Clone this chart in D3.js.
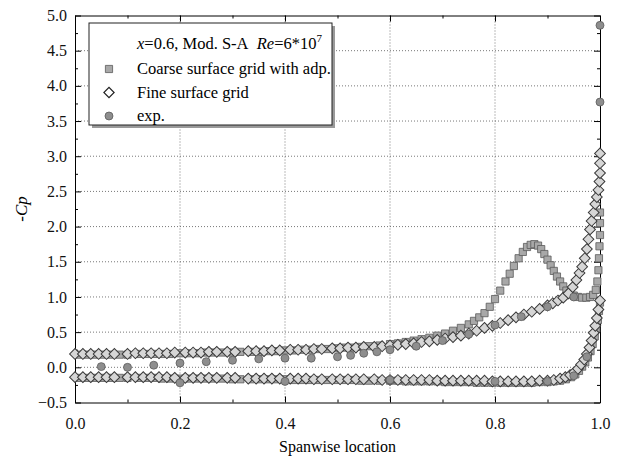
<!DOCTYPE html>
<html>
<head>
<meta charset="utf-8">
<script src="https://cdn.jsdelivr.net/npm/d3@7"></script>
<style>
  body { margin: 0; background: #fff; }
  svg text { font-family: 'Liberation Serif', 'DejaVu Serif', serif; }
  .grid line { stroke: #555; stroke-dasharray: 1 2; stroke-width: 0.8; }
  .axis path, .axis line { stroke: #000; }
  .axis text { font-size: 16px; fill: #111; }
</style>
</head>
<body>
<div id="chart"></div>
<script>
// Tick values
const xTicks = [0.0, 0.2, 0.4, 0.6, 0.8, 1.0];
const xMinorTicks = [0.1, 0.3, 0.5, 0.7, 0.9];
const yTicks = [-0.5, 0.0, 0.5, 1.0, 1.5, 2.0, 2.5, 3.0, 3.5, 4.0, 4.5, 5.0];
const yMinorTicks = [-0.25, 0.25, 0.75, 1.25, 1.75, 2.25, 2.75, 3.25, 3.75, 4.25, 4.75];

// Coarse surface grid with adp. (upper and lower surface)
const coarseUpper = [
  [0.005,0.18],[0.02,0.18],[0.035,0.18],[0.05,0.18],[0.065,0.18],[0.085,0.18],[0.1,0.18],
  [0.12,0.19],[0.135,0.19],[0.15,0.19],[0.165,0.19],[0.18,0.19],[0.2,0.2],[0.215,0.2],
  [0.23,0.2],[0.245,0.21],[0.26,0.21],[0.28,0.21],[0.3,0.21],[0.315,0.22],[0.335,0.22],
  [0.35,0.22],[0.365,0.23],[0.38,0.23],[0.4,0.24],[0.415,0.24],[0.43,0.25],[0.445,0.25],
  [0.46,0.26],[0.48,0.26],[0.5,0.27],[0.515,0.28],[0.53,0.28],[0.545,0.29],[0.56,0.3],
  [0.58,0.31],[0.6,0.33],[0.615,0.34],[0.63,0.36],[0.645,0.38],[0.66,0.4],[0.675,0.42],
  [0.69,0.45],[0.705,0.48],[0.72,0.52],[0.735,0.56],[0.75,0.61],[0.76,0.66],[0.77,0.71],
  [0.78,0.77],[0.79,0.86],[0.8,0.97],[0.81,1.09],[0.82,1.22],[0.828,1.33],[0.836,1.44],
  [0.845,1.55],[0.853,1.64],[0.861,1.71],[0.868,1.74],[0.875,1.75],[0.882,1.73],
  [0.888,1.68],[0.894,1.61],[0.9,1.53],[0.906,1.45],[0.912,1.37],[0.918,1.29],
  [0.924,1.22],[0.93,1.15],[0.936,1.09],[0.943,1.05],[0.95,1.02],[0.958,1.0],
  [0.966,0.99],[0.974,0.99],[0.981,1.0],[0.987,1.03],[0.992,1.1],[0.995,1.22],
  [0.997,1.38],[0.998,1.55],[0.999,1.72],[1.0,1.88],[1.0,2.05],[1.0,2.2]
];
const coarseLower = [
  [0.005,-0.15],[0.02,-0.15],[0.035,-0.15],[0.05,-0.15],[0.065,-0.15],[0.085,-0.15],
  [0.1,-0.15],[0.12,-0.15],[0.135,-0.15],[0.15,-0.15],[0.165,-0.16],[0.18,-0.16],
  [0.2,-0.16],[0.215,-0.16],[0.23,-0.16],[0.245,-0.16],[0.26,-0.16],[0.28,-0.16],
  [0.3,-0.17],[0.315,-0.17],[0.335,-0.17],[0.35,-0.17],[0.365,-0.17],[0.38,-0.17],
  [0.4,-0.17],[0.415,-0.18],[0.43,-0.18],[0.445,-0.18],[0.46,-0.18],[0.48,-0.18],
  [0.5,-0.18],[0.515,-0.18],[0.53,-0.18],[0.545,-0.19],[0.56,-0.19],[0.58,-0.19],
  [0.6,-0.19],[0.615,-0.19],[0.63,-0.2],[0.645,-0.2],[0.66,-0.2],[0.675,-0.2],
  [0.69,-0.2],[0.705,-0.21],[0.72,-0.21],[0.735,-0.21],[0.75,-0.21],[0.765,-0.22],
  [0.78,-0.22],[0.795,-0.22],[0.81,-0.22],[0.825,-0.22],[0.84,-0.22],[0.855,-0.22],
  [0.87,-0.22],[0.885,-0.21],[0.9,-0.21],[0.912,-0.2],[0.924,-0.19],[0.935,-0.17],
  [0.945,-0.14],[0.953,-0.1],[0.96,-0.05],[0.966,0.01],[0.972,0.07],[0.977,0.14],
  [0.982,0.23],[0.986,0.33],[0.99,0.44],[0.993,0.55],[0.996,0.67],[0.998,0.8],
  [1.0,0.92]
];

// Fine surface grid (upper and lower surface)
const fineUpper = [
  [0.0,0.19],[0.015,0.19],[0.03,0.19],[0.045,0.19],[0.06,0.19],[0.075,0.19],[0.1,0.19],
  [0.115,0.2],[0.13,0.2],[0.145,0.2],[0.16,0.2],[0.175,0.2],[0.19,0.21],[0.21,0.21],
  [0.225,0.21],[0.24,0.21],[0.255,0.22],[0.27,0.22],[0.29,0.22],[0.305,0.22],[0.33,0.23],
  [0.345,0.23],[0.36,0.23],[0.375,0.24],[0.39,0.24],[0.41,0.25],[0.425,0.25],[0.44,0.25],
  [0.455,0.26],[0.47,0.26],[0.49,0.27],[0.505,0.27],[0.52,0.28],[0.535,0.28],[0.55,0.29],
  [0.57,0.29],[0.585,0.3],[0.6,0.31],[0.615,0.32],[0.63,0.33],[0.645,0.34],[0.66,0.36],
  [0.675,0.37],[0.69,0.39],[0.705,0.41],[0.72,0.43],[0.735,0.45],[0.75,0.48],[0.765,0.52],
  [0.78,0.56],[0.795,0.59],[0.81,0.63],[0.825,0.67],[0.84,0.71],[0.855,0.75],[0.87,0.79],
  [0.885,0.83],[0.9,0.88],[0.91,0.91],[0.92,0.95],[0.93,0.99],[0.94,1.05],[0.948,1.14],
  [0.955,1.24],[0.961,1.34],[0.966,1.43],[0.971,1.55],[0.975,1.68],[0.978,1.82],
  [0.981,1.96],[0.984,2.08],[0.988,2.2],[0.991,2.32],[0.994,2.42],[0.997,2.52],
  [0.999,2.64],[1.0,2.76],[1.0,2.9],[1.0,3.04]
];
const fineLower = [
  [0.0,-0.14],[0.015,-0.14],[0.03,-0.14],[0.045,-0.14],[0.06,-0.14],[0.075,-0.14],
  [0.1,-0.14],[0.115,-0.14],[0.13,-0.14],[0.145,-0.14],[0.16,-0.14],[0.175,-0.14],
  [0.19,-0.15],[0.21,-0.15],[0.225,-0.15],[0.24,-0.15],[0.255,-0.15],[0.27,-0.15],
  [0.29,-0.15],[0.305,-0.15],[0.33,-0.16],[0.345,-0.16],[0.36,-0.16],[0.375,-0.16],
  [0.39,-0.16],[0.41,-0.16],[0.425,-0.16],[0.44,-0.16],[0.455,-0.17],[0.47,-0.17],
  [0.49,-0.17],[0.505,-0.17],[0.52,-0.17],[0.535,-0.17],[0.55,-0.17],[0.57,-0.17],
  [0.585,-0.18],[0.6,-0.18],[0.615,-0.18],[0.63,-0.18],[0.645,-0.18],[0.66,-0.18],
  [0.675,-0.18],[0.69,-0.19],[0.705,-0.19],[0.72,-0.19],[0.735,-0.19],[0.75,-0.19],
  [0.765,-0.19],[0.78,-0.19],[0.795,-0.2],[0.81,-0.2],[0.825,-0.2],[0.84,-0.2],
  [0.855,-0.2],[0.87,-0.2],[0.885,-0.19],[0.9,-0.19],[0.912,-0.18],[0.924,-0.16],
  [0.934,-0.14],[0.943,-0.11],[0.951,-0.07],[0.958,-0.02],[0.964,0.04],[0.97,0.11],
  [0.975,0.19],[0.98,0.28],[0.984,0.38],[0.988,0.49],[0.991,0.59],[0.994,0.7],
  [0.997,0.82],[1.0,0.95]
];

// Experiment
const expData = [
  [0.05,0.01],[0.1,0.0],[0.15,0.03],[0.2,0.06],[0.25,0.08],[0.3,0.1],[0.35,0.12],
  [0.4,0.13],[0.45,0.13],[0.5,0.15],[0.525,0.17],[0.55,0.2],[0.575,0.22],[0.6,0.25],
  [0.65,0.3],[0.7,0.38],[0.75,0.47],[0.8,0.6],[0.85,0.72],[0.9,0.86],[0.95,1.0],
  [0.2,-0.22],[0.4,-0.2],[0.6,-0.18],[0.8,-0.2],[0.9,-0.2],[0.95,-0.12],[0.975,0.15],
  [1.0,3.77],[1.0,4.86]
];

const margin = {top: 15.5, right: 24, bottom: 65.5, left: 75};
const width = 624 - margin.left - margin.right,
  height = 468 - margin.top - margin.bottom;
const serif = "'Liberation Serif', 'DejaVu Serif', serif";

const root = d3.select('#chart').append('svg')
  .attr('width', 624)
  .attr('height', 468);

const svg = root.append('g')
  .attr('transform', `translate(${margin.left}, ${margin.top})`);

const xScale = d3.scaleLinear().domain([0, 1]).range([0, width]);
const yScale = d3.scaleLinear().domain([-0.5, 5]).range([height, 0]);

// Dotted grid
const grid = svg.append('g').attr('class', 'grid');
grid.selectAll('.gx')
  .data(xTicks.slice(1, -1))
  .enter().append('line')
  .attr('x1', d => xScale(d)).attr('x2', d => xScale(d))
  .attr('y1', 0).attr('y2', height);
grid.selectAll('.gy')
  .data(yTicks.slice(1, -1))
  .enter().append('line')
  .attr('y1', d => yScale(d)).attr('y2', d => yScale(d))
  .attr('x1', 0).attr('x2', width);

// Axes with inward ticks on all four sides
function addAxis(axisFn, scale, values, size, labels, transform) {
  const g = svg.append('g').attr('class', 'axis').attr('transform', transform);
  g.call(axisFn(scale).tickValues(values).tickSize(size).tickSizeOuter(0)
    .tickPadding(labels ? 10 : 0)
    .tickFormat(labels ? d3.format('.1f') : ''));
  g.attr('font-family', null).attr('font-size', null);
  return g;
}
const xb = addAxis(d3.axisBottom, xScale, xTicks, -6, true, `translate(0, ${height})`);
xb.selectAll('text').attr('dy', '1.0em');
addAxis(d3.axisBottom, xScale, xMinorTicks, -3, false, `translate(0, ${height})`).select('.domain').remove();
addAxis(d3.axisTop, xScale, xTicks, -6, false, 'translate(0, 0)');
addAxis(d3.axisTop, xScale, xMinorTicks, -3, false, 'translate(0, 0)').select('.domain').remove();
const yl = addAxis(d3.axisLeft, yScale, yTicks, -6, true, 'translate(0, 0)');
yl.selectAll('text').attr('x', -8);
addAxis(d3.axisLeft, yScale, yMinorTicks, -3, false, 'translate(0, 0)').select('.domain').remove();
addAxis(d3.axisRight, yScale, yTicks, -6, false, `translate(${width}, 0)`);
addAxis(d3.axisRight, yScale, yMinorTicks, -3, false, `translate(${width}, 0)`).select('.domain').remove();

// Markers
const squareSym = d3.symbol().type(d3.symbolSquare).size(52);
const diamondSym = d3.symbol().type(d3.symbolSquare).size(58);
const circleSym = d3.symbol().type(d3.symbolCircle).size(50);

const marks = svg.append('g');
function drawSquares(data) {
  marks.append('g').selectAll('path').data(data).enter().append('path')
    .attr('d', squareSym)
    .attr('transform', d => `translate(${xScale(d[0])}, ${yScale(d[1])})`)
    .attr('fill', '#a8a8a8').attr('stroke', '#5a5a5a').attr('stroke-width', 0.8);
}
function drawDiamonds(data) {
  marks.append('g').selectAll('path').data(data).enter().append('path')
    .attr('d', diamondSym)
    .attr('transform', d => `translate(${xScale(d[0])}, ${yScale(d[1])}) rotate(45)`)
    .attr('fill', '#d6d6d6').attr('stroke', '#3a3a3a').attr('stroke-width', 1);
}
function drawCircles(data) {
  marks.append('g').selectAll('path').data(data).enter().append('path')
    .attr('d', circleSym)
    .attr('transform', d => `translate(${xScale(d[0])}, ${yScale(d[1])})`)
    .attr('fill', '#8e8e8e').attr('stroke', '#5c5c5c').attr('stroke-width', 0.8);
}
drawSquares(coarseUpper);
drawSquares(coarseLower);
drawDiamonds(fineUpper);
drawDiamonds(fineLower);
drawCircles(expData);

// Axis titles
root.append('text')
  .attr('x', margin.left + width / 2).attr('y', 452)
  .attr('text-anchor', 'middle')
  .style('font-size', '16px')
  .text('Spanwise location');

root.append('text')
  .attr('transform', `translate(27, ${margin.top + height / 2}) rotate(-90)`)
  .attr('text-anchor', 'middle')
  .style('font-size', '17px')
  .style('font-style', 'italic')
  .text('-Cp');

// Legend
const legend = root.append('g').attr('transform', 'translate(89, 23)');
legend.append('rect')
  .attr('x', 3).attr('y', 3).attr('width', 243).attr('height', 102)
  .attr('fill', '#9a9a9a');
legend.append('rect')
  .attr('width', 243).attr('height', 102)
  .attr('fill', '#fff').attr('stroke', '#222').attr('stroke-width', 1);

const title = legend.append('text')
  .attr('x', 48).attr('y', 26)
  .style('font-size', '16.5px');
title.append('tspan').style('font-style', 'italic').text('x');
title.append('tspan').text('=0.6, Mod. S-A\u00a0\u00a0');
title.append('tspan').style('font-style', 'italic').text('Re');
title.append('tspan').text('=6*10');
title.append('tspan').attr('dy', -7).style('font-size', '11px').text('7');

const legendItems = [
  {label: 'Coarse surface grid with adp.', kind: 'square'},
  {label: 'Fine surface grid', kind: 'diamond'},
  {label: 'exp.', kind: 'circle'}
];
legendItems.forEach((item, i) => {
  const yy = 46 + i * 23.5;
  const sym = item.kind === 'circle' ? circleSym : squareSym;
  legend.append('path')
    .attr('d', sym)
    .attr('transform', `translate(20, ${yy}) ${item.kind === 'diamond' ? 'rotate(45)' : ''}`)
    .attr('fill', item.kind === 'diamond' ? '#fff' : (item.kind === 'circle' ? '#8e8e8e' : '#a8a8a8'))
    .attr('stroke', item.kind === 'diamond' ? '#222' : '#5a5a5a')
    .attr('stroke-width', item.kind === 'diamond' ? 1.2 : 0.8);
  legend.append('text')
    .attr('x', 48).attr('y', yy + 5)
    .style('font-size', '16.5px')
    .text(item.label);
});
</script>
</body>
</html>
